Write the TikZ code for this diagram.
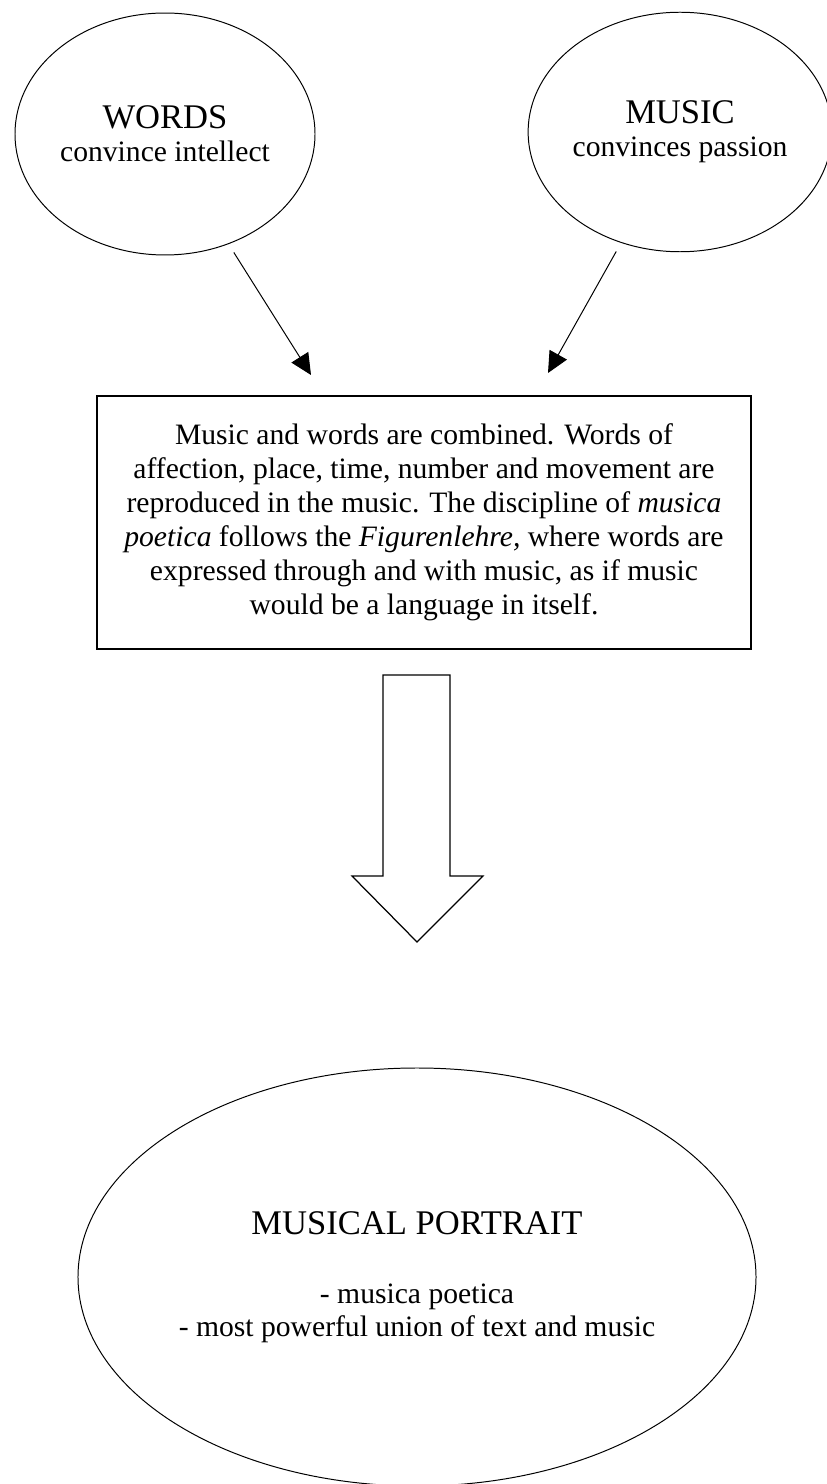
\documentclass[tikz,border=0pt]{standalone}
\usepackage{fontspec}
\setmainfont{Liberation Serif}
\usetikzlibrary{shapes.geometric, arrows.meta}

\tikzset{
    idea/.style={ellipse, draw, line width=0.4pt, inner sep=0pt, align=center,
        font=\fontsize{12}{13.4}\selectfont},
    summary/.style={rectangle, draw, line width=0.6pt, align=center,
        minimum width=265pt, minimum height=102.5pt, font=\fontsize{12}{13.8}\selectfont},
    feed/.style={-{Triangle[length=8.5pt, width=8pt]}, line width=0.4pt, shorten <=4pt},
    bigarrow/.style={draw, line width=0.5pt, fill=white, line join=miter}
}
\newcommand{\headline}[1]{{\fontsize{14}{13.4}\selectfont #1}}

\begin{document}
\begin{tikzpicture}[x=0.405pt, y=-0.405pt]
    \useasboundingbox (0,0) rectangle (826,1484);

    % The two sources
    \node[idea, minimum width=121.5pt, minimum height=98pt] (words) at (165,134) {\headline{WORDS}\\convince intellect};
    \node[idea, minimum width=118pt, minimum height=97pt] (music) at (680,132) {\headline{MUSIC}\\convinces passion};

    % Where they meet
    \node[summary] (combo) at (424,522.5) {Music and words are combined. Words of\\
        affection, place, time, number and movement are\\
        reproduced in the music. The discipline of \textit{musica}\\
        \textit{poetica} follows the \textit{Figurenlehre,} where words are\\
        expressed through and with music, as if music\\
        would be a language in itself.};

    % Arrows into the box
    \coordinate (inL) at (311,375);
    \coordinate (inR) at (548,373);
    \draw[feed] (words.-60) -- (inL);
    \draw[feed] (music.-118) -- (inR);

    % Block arrow down
    \draw[bigarrow] (383,675) -- (450,675) -- (450,876) -- (483,876)
        -- (417,942) -- (352,876) -- (383,876) -- cycle;

    % The result
    \node[idea, minimum width=274.6pt, minimum height=169.3pt] (portrait) at (417,1277)
        {\headline{MUSICAL PORTRAIT}\\[14.5pt]- musica poetica\\- most powerful union of text and music};
\end{tikzpicture}
\end{document}
